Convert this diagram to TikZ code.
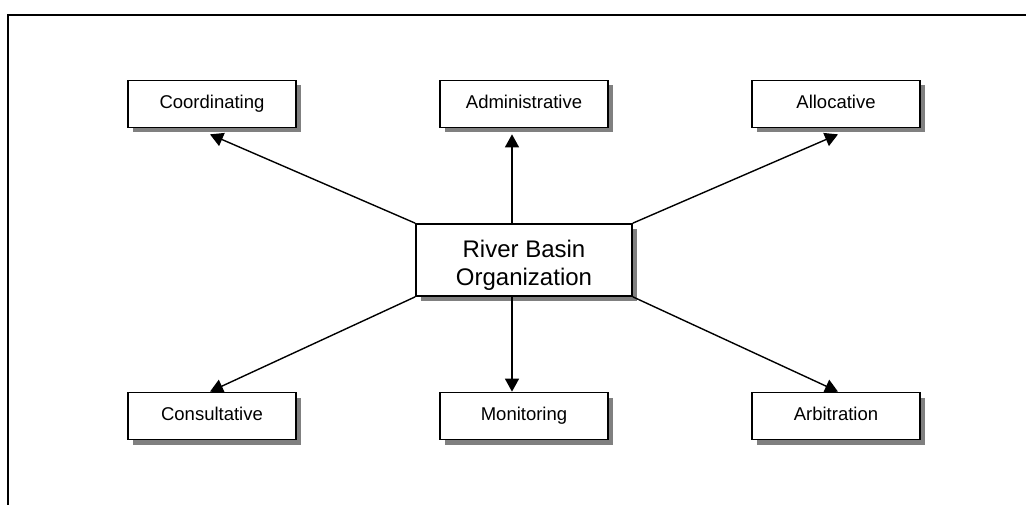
\documentclass[tikz,border=0pt]{standalone}
\usepackage{fontspec}
\setmainfont{Liberation Sans}
\usetikzlibrary{arrows.meta,shadows}

\tikzset{
  role/.style={draw,line width=1.7pt,fill=white,minimum width=168pt,minimum height=47pt,
    inner sep=0pt,text height=13pt,text depth=3.5pt,font=\fontsize{18.5}{22}\selectfont,
    drop shadow={shadow xshift=5pt,shadow yshift=-5pt,fill=gray,opacity=1}},
  rbo/.style={role,minimum width=216pt,minimum height=72pt,align=center,
    text height=,text depth=,font=\fontsize{24}{28}\selectfont}, 
  arr/.style={line width=1.4pt,-{Triangle[length=13pt,width=14pt]}}
}

\begin{document}
\begin{tikzpicture}[x=1pt,y=-1pt]
  \useasboundingbox (0,0) rectangle (1026,505);
  \draw[line width=1.8pt] (8,505) |- (1026,15);

  \node[rbo] (basin) at (524,260) {\rule{0pt}{27pt}River Basin\\Organization};

  \node[role] (coord) at (212,104) {Coordinating};
  \node[role] (admin) at (524,104) {Administrative};
  \node[role] (alloc) at (836,104) {Allocative};
  \node[role] (consult) at (212,416) {Consultative};
  \node[role] (monit) at (524,416) {Monitoring};
  \node[role] (arbit) at (836,416) {Arbitration};

  \draw[arr] (basin.north west) -- ([xshift=-2pt,yshift=-6pt]coord.south);
  \draw[arr] ([xshift=-12pt]basin.north) -- ([xshift=-12pt,yshift=-6pt]admin.south);
  \draw[arr] (basin.north east) -- ([xshift=2pt,yshift=-6pt]alloc.south);
  \draw[arr] (basin.south west) -- ([xshift=-2pt]consult.north);
  \draw[arr] ([xshift=-12pt]basin.south) -- ([xshift=-12pt]monit.north);
  \draw[arr] (basin.south east) -- ([xshift=2pt]arbit.north);
\end{tikzpicture}
\end{document}
